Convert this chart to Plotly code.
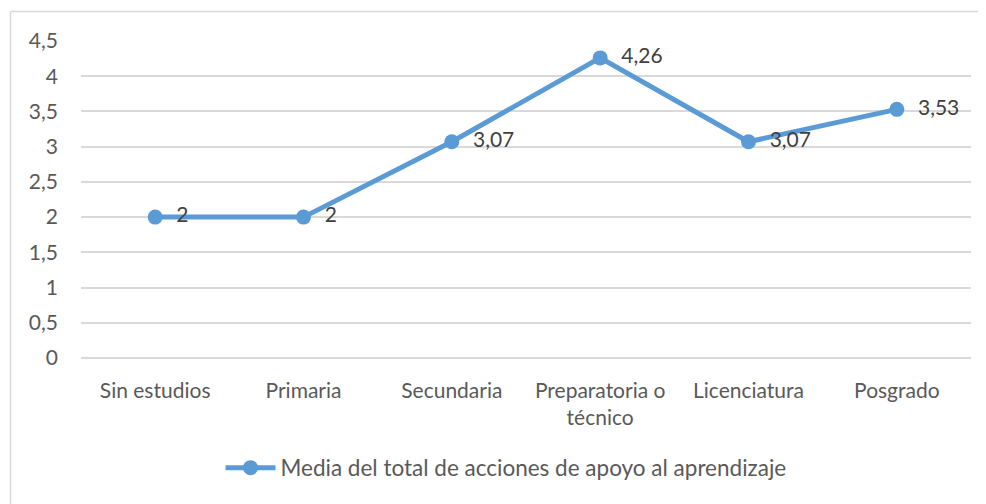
import plotly.graph_objects as go

categories = ["Sin estudios", "Primaria", "Secundaria", "Preparatoria o<br>técnico", "Licenciatura", "Posgrado"]
values = [2, 2, 3.07, 4.26, 3.07, 3.53]
value_labels = ["2", "2", "3,07", "4,26", "3,07", "3,53"]
y_ticks = [0, 0.5, 1, 1.5, 2, 2.5, 3, 3.5, 4, 4.5]
y_tick_labels = ["0", "0,5", "1", "1,5", "2", "2,5", "3", "3,5", "4", "4,5"]
series_name = "Media del total de acciones de apoyo al aprendizaje"

# page body has an 8px default margin; work in screen pixels and subtract it
OFF = 8
W, H = 986 - OFF, 504 - OFF
L, R, T, B = 81 - OFF, 15, 41 - OFF, 146
pw, ph = W - L - R, H - T - B

FONT = "Lato"
TXT = "#595959"
BLUE = "#5B9BD5"
FS = 21

fig = go.Figure()
fig.add_trace(go.Scatter(
    x=list(range(len(categories))), y=values,
    mode="lines+markers+text",
    name=series_name,
    line=dict(color=BLUE, width=5),
    marker=dict(color=BLUE, size=15),
    text=value_labels,
    texttemplate="  %{text}",
    textposition="middle right",
    textfont=dict(family=FONT, size=FS, color="#404040"),
))

def px_x(p):
    return (p - OFF - L) / pw

def px_y(p):
    return (H - B - (p - OFF)) / ph

fig.update_layout(
    width=W, height=H,
    margin=dict(l=L, r=R, t=T, b=B, autoexpand=False),
    paper_bgcolor="white", plot_bgcolor="white",
    font=dict(family=FONT, size=FS, color=TXT),
    showlegend=True,
    legend=dict(orientation="h", x=px_x(506), xanchor="center", y=px_y(468), yanchor="middle",
                font=dict(family=FONT, size=22.5, color=TXT), itemwidth=50),
    xaxis=dict(
        tickmode="array", tickvals=list(range(len(categories))), ticktext=categories,
        range=[-0.5, len(categories) - 0.5],
        showgrid=False, zeroline=False, showline=False, ticks="",
        ticklabelstandoff=18,
        tickfont=dict(family=FONT, size=FS, color=TXT),
    ),
    yaxis=dict(
        tickmode="array", tickvals=y_ticks, ticktext=y_tick_labels,
        range=[0, 4.5],
        showgrid=True, gridcolor="#D9D9D9", gridwidth=1.5,
        zeroline=True, zerolinecolor="#D9D9D9", zerolinewidth=1.5,
        showline=False, ticks="",
        ticklabelstandoff=22,
        tickfont=dict(family=FONT, size=FS, color=TXT),
    ),
    shapes=[
        dict(type="line", xref="paper", yref="paper",
             x0=px_x(10.5), x1=px_x(986), y0=px_y(11.5), y1=px_y(11.5),
             line=dict(color="#D9D9D9", width=1.5)),
        dict(type="line", xref="paper", yref="paper",
             x0=px_x(10.5), x1=px_x(10.5), y0=px_y(11.5), y1=px_y(504),
             line=dict(color="#D9D9D9", width=1.5)),
    ],
)

fig.write_html("out.html")
